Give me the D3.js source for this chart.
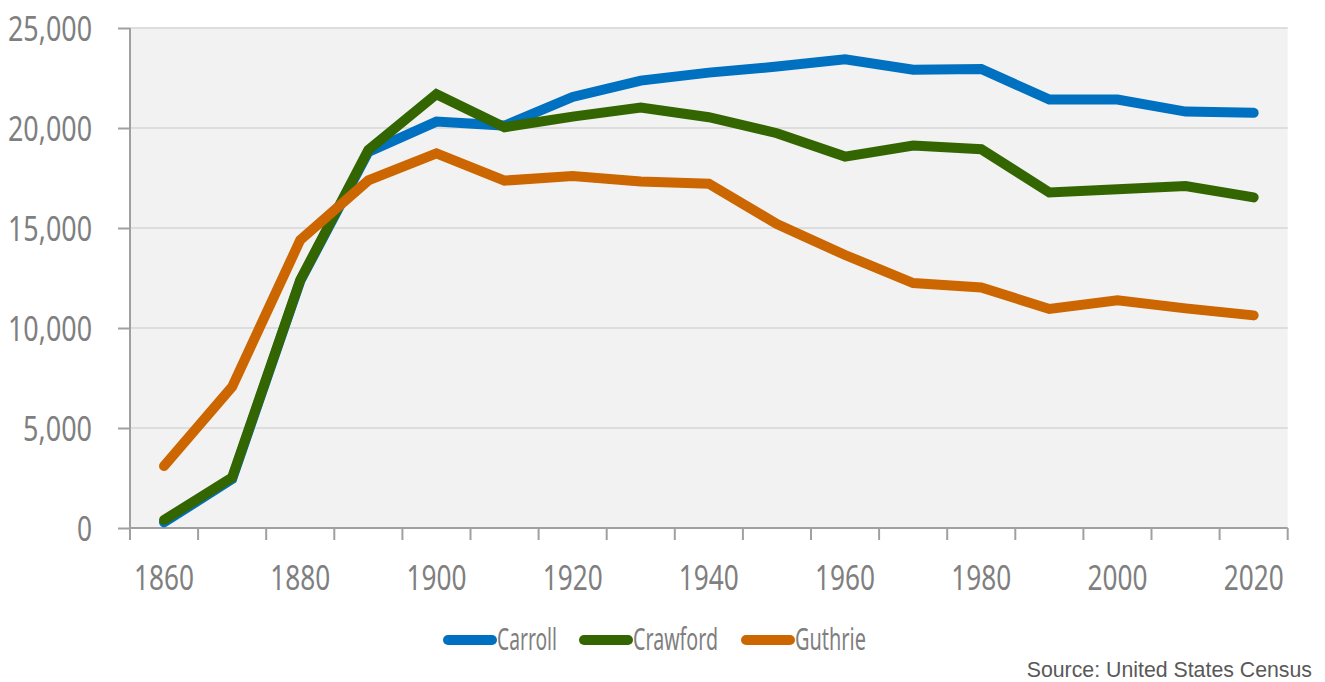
<!DOCTYPE html>
<html>
<head>
<meta charset="utf-8">
<script src="https://cdn.jsdelivr.net/npm/d3@7"></script>
<style>
  html, body { margin: 0; padding: 0; background: #fff; }
  svg { display: block; }
  .lbl { font-family: "Noto Sans", "Open Sans", sans-serif; fill: #7f7f7f; }
</style>
</head>
<body>
<svg id="chart" width="1325" height="682"></svg>
<script>
const years = [1860,1870,1880,1890,1900,1910,1920,1930,1940,1950,1960,1970,1980,1990,2000,2010,2020];
const carroll  = [280, 2450, 12350, 18800, 20320, 20120, 21550, 22370, 22770, 23070, 23430, 22910, 22950, 21420, 21420, 20820, 20760];
const crawford = [400, 2530, 12400, 18900, 21690, 20040, 20570, 21020, 20540, 19740, 18570, 19120, 18940, 16780, 16940, 17100, 16530];
const guthrie  = [3100, 7060, 14400, 17380, 18730, 17370, 17600, 17320, 17210, 15200, 13650, 12250, 12030, 10950, 11380, 10980, 10630];
const yTicks = [0, 5000, 10000, 15000, 20000, 25000];
const xLabelYears = [1860,1880,1900,1920,1940,1960,1980,2000,2020];
const seriesNames = ["Carroll", "Crawford", "Guthrie"];
const seriesColors = ["#0070c0", "#336600", "#cc6600"];
const seriesData = [carroll, crawford, guthrie];
const sourceText = "Source: United States Census";

(function () {
const svg = d3.select("#chart");
const pL = 130, pR = 1287.7, pT = 28, pB = 528;
const fs = 35;

const x = d3.scaleBand().domain(years).range([pL, pR]).paddingInner(0).paddingOuter(0);
const y = d3.scaleLinear().domain([0, 25000]).range([pB, pT]);

svg.append("rect").attr("x", pL).attr("y", pT).attr("width", pR - pL).attr("height", pB - pT).attr("fill", "#f2f2f2");

svg.append("g").selectAll("line").data(yTicks.filter(d => d > 0)).join("line")
  .attr("x1", pL).attr("x2", pR)
  .attr("y1", d => y(d)).attr("y2", d => y(d))
  .attr("stroke", "#dddddd").attr("stroke-width", 2);

// condensed look
const condW = s => String(s).split("").reduce((a, c) => a + (c === "," ? 0.25 : 0.43) * fs, 0);

const yAxis = d3.axisLeft(y).tickValues(yTicks).tickSize(12).tickPadding(26).tickFormat(d3.format(","));
const gy = svg.append("g").attr("transform", `translate(${pL},0)`).call(yAxis);
gy.attr("font-family", null).attr("font-size", null);
gy.select(".domain").remove();
gy.selectAll(".tick line").attr("stroke", "#a0a0a0").attr("stroke-width", 2);
gy.selectAll(".tick text").attr("class", "lbl").attr("font-size", fs).attr("dy", "0.36em")
  .attr("textLength", function () { return condW(this.textContent); })
  .attr("lengthAdjust", "spacingAndGlyphs");
svg.append("line").attr("x1", pL).attr("x2", pL).attr("y1", pT).attr("y2", pB + 12)
  .attr("stroke", "#a0a0a0").attr("stroke-width", 2);

svg.append("line").attr("x1", pL).attr("x2", pR).attr("y1", pB).attr("y2", pB)
  .attr("stroke", "#a0a0a0").attr("stroke-width", 2);
const boundaries = years.map(d => x(d)).concat([pR]);
svg.append("g").selectAll("line").data(boundaries).join("line")
  .attr("x1", d => d).attr("x2", d => d).attr("y1", pB).attr("y2", pB + 12)
  .attr("stroke", "#a0a0a0").attr("stroke-width", 2);
svg.append("g").selectAll("text").data(xLabelYears).join("text")
  .attr("class", "lbl")
  .attr("x", d => x(d) + x.bandwidth() / 2)
  .attr("y", 590)
  .attr("text-anchor", "middle")
  .attr("font-size", fs)
  .attr("textLength", 60).attr("lengthAdjust", "spacingAndGlyphs")
  .text(d => d);

const line = d3.line().x((d, i) => x(years[i]) + x.bandwidth() / 2).y(d => y(d));
seriesData.forEach((s, k) => {
  svg.append("path").datum(s)
    .attr("d", line)
    .attr("fill", "none")
    .attr("stroke", seriesColors[k])
    .attr("stroke-width", 10)
    .attr("stroke-linecap", "round")
    .attr("stroke-linejoin", "miter");
});

const legendX = [448, 584, 746];
const legendTextW = [60, 85, 71];
const lg = svg.append("g");
seriesNames.forEach((n, k) => {
  lg.append("line").attr("x1", legendX[k]).attr("x2", legendX[k] + 44)
    .attr("y1", 640).attr("y2", 640)
    .attr("stroke", seriesColors[k]).attr("stroke-width", 10).attr("stroke-linecap", "round");
  lg.append("text").attr("class", "lbl")
    .attr("x", legendX[k] + 49).attr("y", 650)
    .attr("font-size", 30)
    .attr("textLength", legendTextW[k]).attr("lengthAdjust", "spacingAndGlyphs")
    .text(n);
});

svg.append("text").attr("x", 1312).attr("y", 677).attr("text-anchor", "end")
  .attr("font-family", "Liberation Sans, Arial, sans-serif").attr("font-size", 21.3)
  .attr("fill", "#595959").text(sourceText);
})();
</script>
</body>
</html>
